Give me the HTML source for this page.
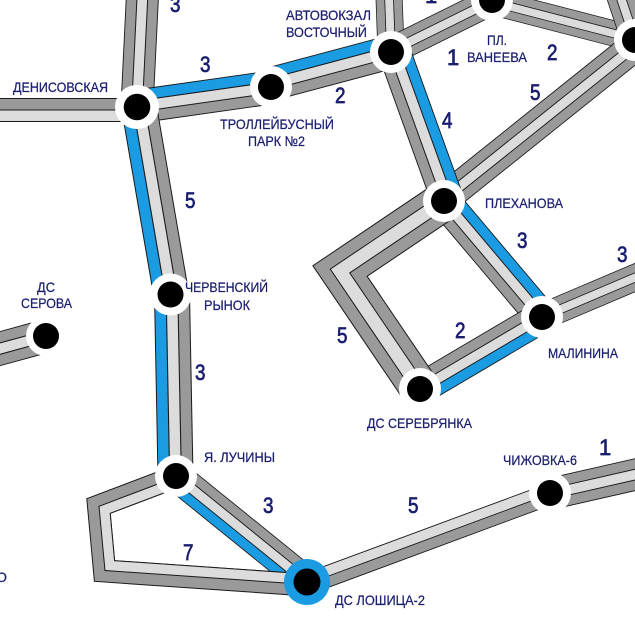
<!DOCTYPE html>
<html><head><meta charset="utf-8"><style>
html,body{margin:0;padding:0;background:#fff;}
svg{display:block;}
.s{font-family:"Liberation Sans","Noto Sans CJK SC",sans-serif;font-size:14px;fill:#1b1f6e;stroke:#1b1f6e;stroke-width:0.25;}
.n{font-family:"Liberation Sans",sans-serif;font-size:22px;fill:#1b1f6e;stroke:#1b1f6e;stroke-width:0.7;}
</style></head><body>
<svg width="635" height="632" viewBox="0 0 635 632" xmlns="http://www.w3.org/2000/svg">
<defs>
<g id="dld"><rect y="-18" width="1" height="36" fill="#1a1a1a"/><rect y="-17" width="1" height="10.6" fill="#9a9a9a"/><rect y="-5.3" width="1" height="10.6" fill="#dcdcdc"/><rect y="6.4" width="1" height="10.6" fill="#9a9a9a"/></g>
<g id="bld"><rect y="-18" width="1" height="36" fill="#1a1a1a"/><rect y="-17" width="1" height="10.6" fill="#1a9be2"/><rect y="-5.3" width="1" height="10.6" fill="#dcdcdc"/><rect y="6.4" width="1" height="10.6" fill="#9a9a9a"/></g>
<g id="dlb"><rect y="-18" width="1" height="36" fill="#1a1a1a"/><rect y="-17" width="1" height="10.6" fill="#9a9a9a"/><rect y="-5.3" width="1" height="10.6" fill="#dcdcdc"/><rect y="6.4" width="1" height="10.6" fill="#1a9be2"/></g>
<g id="dl"><rect y="-12" width="1" height="24" fill="#1a1a1a"/><rect y="-11" width="1" height="10.5" fill="#9a9a9a"/><rect y="0.5" width="1" height="10.5" fill="#dcdcdc"/></g>
<g id="ld"><rect y="-12" width="1" height="24" fill="#1a1a1a"/><rect y="-11" width="1" height="10.5" fill="#dcdcdc"/><rect y="0.5" width="1" height="10.5" fill="#9a9a9a"/></g>
</defs>
<rect width="635" height="632" fill="#fff"/>

<!-- bundles -->
<use href="#dld" transform="translate(137 107) rotate(-87.19) scale(112.1 0.917)"/>
<use href="#dl" transform="translate(-5 110) scale(142 1)"/>
<use href="#bld" transform="translate(137 106.5) rotate(-8.07) scale(135.3 0.944)"/>
<use href="#bld" transform="translate(271 84) rotate(-14.93) scale(124.2 0.944)"/>
<use href="#dld" transform="translate(391 52) rotate(-92.05) scale(58 0.75)"/>
<use href="#dld" transform="translate(391 51) rotate(-26.34) scale(112.7 0.78)"/>
<use href="#dld" transform="translate(492 2) rotate(14.51) scale(147.7 0.72)"/>
<use href="#dld" transform="translate(635 40) rotate(-108.43) scale(47.4 0.78)"/>
<use href="#dld" transform="translate(635 46) rotate(141.3) scale(244.7 0.86)"/>
<use href="#bld" transform="translate(394 51) rotate(70.2) scale(159.4 0.917)"/>
<use href="#bld" transform="translate(444 201) rotate(49.81) scale(151.9 0.9)"/>
<use href="#dld" transform="translate(542 317) rotate(-22.99) scale(107.5 0.75)"/>
<use href="#bld" transform="translate(542 317) rotate(149.46) scale(141.7 0.89)"/>
<use href="#dlb" transform="translate(139 107) rotate(80.24) scale(188.7 1)"/>
<use href="#dlb" transform="translate(172 294) rotate(88.9) scale(183 1)"/>
<use href="#dlb" transform="translate(176 476) rotate(38.98) scale(168.5 0.85)"/>
<use href="#ld" transform="translate(307 584) rotate(-20.32) scale(259.1 0.917)"/>
<use href="#dld" transform="translate(550 494) rotate(-12.83) scale(92.3 0.89)"/>
<use href="#dld" transform="translate(46 336) rotate(164.65) scale(52.9 0.94)"/>

<!-- Serebryanka loop -->
<g fill="none" stroke-linejoin="miter" stroke-linecap="butt">
<polyline points="444,201 340,271 420,389" stroke="#1a1a1a" stroke-width="40"/>
<polyline points="444,201 340,271 420,389" stroke="#9a9a9a" stroke-width="38"/>
<polyline points="444,201 340,271 420,389" stroke="#1a1a1a" stroke-width="15"/>
<polyline points="444,201 340,271 420,389" stroke="#dcdcdc" stroke-width="13"/>
</g>
<!-- Luchiny loop -->
<g fill="none" stroke-linejoin="miter" stroke-linecap="butt">
<polyline points="175,477 98.5,506 104.5,571 307,585" stroke="#1a1a1a" stroke-width="23"/>
<polyline points="175,477 98.5,506 104.5,571 307,585" stroke="#9a9a9a" stroke-width="21"/>
<polyline points="177,482.4 104.6,509.8 109.8,565.6 307.4,579.3" stroke="#1a1a1a" stroke-width="11.5"/>
<polyline points="177,482.4 104.6,509.8 109.8,565.6 307.4,579.3" stroke="#dcdcdc" stroke-width="9.5"/>
</g>

<!-- stations -->
<g>
<circle cx="137" cy="107" r="22" fill="#fff"/><circle cx="137" cy="107" r="13.3" fill="#000"/>
<circle cx="271" cy="87" r="21" fill="#fff"/><circle cx="271" cy="87" r="13" fill="#000"/>
<circle cx="391" cy="52" r="21" fill="#fff"/><circle cx="391" cy="52" r="13" fill="#000"/>
<circle cx="492" cy="0" r="21" fill="#fff"/><circle cx="492" cy="0" r="13" fill="#000"/>
<circle cx="635" cy="40" r="21" fill="#fff"/><circle cx="635" cy="40" r="13" fill="#000"/>
<circle cx="444" cy="201" r="21" fill="#fff"/><circle cx="444" cy="201" r="13" fill="#000"/>
<circle cx="542" cy="317" r="21" fill="#fff"/><circle cx="542" cy="317" r="13" fill="#000"/>
<circle cx="420" cy="389" r="21" fill="#fff"/><circle cx="420" cy="389" r="13" fill="#000"/>
<circle cx="170.5" cy="294.5" r="21" fill="#fff"/><circle cx="170.5" cy="294.5" r="13" fill="#000"/>
<circle cx="46" cy="336" r="20" fill="#fff"/><circle cx="46" cy="336" r="13" fill="#000"/>
<circle cx="176" cy="476" r="21" fill="#fff"/><circle cx="176" cy="476" r="13" fill="#000"/>
<circle cx="550" cy="493" r="21" fill="#fff"/><circle cx="550" cy="493" r="13" fill="#000"/>
<circle cx="307" cy="582" r="23" fill="#1a9be2"/><circle cx="307" cy="582" r="13.5" fill="#000"/>
</g>

<!-- station labels -->
<text class="s" x="13" y="92" textLength="95" lengthAdjust="spacingAndGlyphs">ДЕНИСОВСКАЯ</text>
<text class="s" x="286" y="20" textLength="85" lengthAdjust="spacingAndGlyphs">АВТОВОКЗАЛ</text>
<text class="s" x="286" y="37" textLength="81" lengthAdjust="spacingAndGlyphs">ВОСТОЧНЫЙ</text>
<text class="s" x="220" y="129" textLength="114" lengthAdjust="spacingAndGlyphs">ТРОЛЛЕЙБУСНЫЙ</text>
<text class="s" x="248" y="146" textLength="57" lengthAdjust="spacingAndGlyphs">ПАРК №2</text>
<text class="s" x="487" y="45" textLength="20" lengthAdjust="spacingAndGlyphs">ПЛ.</text>
<text class="s" x="467" y="62" textLength="60" lengthAdjust="spacingAndGlyphs">ВАНЕЕВА</text>
<text class="s" x="485" y="208" textLength="78" lengthAdjust="spacingAndGlyphs">ПЛЕХАНОВА</text>
<text class="s" x="548" y="358" textLength="70" lengthAdjust="spacingAndGlyphs">МАЛИНИНА</text>
<text class="s" x="367" y="428" textLength="105" lengthAdjust="spacingAndGlyphs">ДС СЕРЕБРЯНКА</text>
<text class="s" x="185" y="292" textLength="83" lengthAdjust="spacingAndGlyphs">ЧЕРВЕНСКИЙ</text>
<text class="s" x="204" y="310" textLength="46" lengthAdjust="spacingAndGlyphs">РЫНОК</text>
<text class="s" x="37" y="292" textLength="18" lengthAdjust="spacingAndGlyphs">ДС</text>
<text class="s" x="21" y="308" textLength="51" lengthAdjust="spacingAndGlyphs">СЕРОВА</text>
<text class="s" x="204" y="462" textLength="71" lengthAdjust="spacingAndGlyphs">Я. ЛУЧИНЫ</text>
<text class="s" x="503" y="465" textLength="74" lengthAdjust="spacingAndGlyphs">ЧИЖОВКА-6</text>
<text class="s" x="335" y="605" textLength="90" lengthAdjust="spacingAndGlyphs">ДС ЛОШИЦА-2</text>
<text class="s" x="-4" y="582" textLength="11" lengthAdjust="spacingAndGlyphs">О</text>

<!-- route numbers -->
<text class="n" x="170" y="12" textLength="10.5" lengthAdjust="spacingAndGlyphs">3</text>
<text class="n" x="200" y="72" textLength="10.5" lengthAdjust="spacingAndGlyphs">3</text>
<text class="n" x="335" y="103" textLength="10.5" lengthAdjust="spacingAndGlyphs">2</text>
<text class="n" x="447" y="65">1</text>
<text class="n" x="425" y="3">1</text>
<text class="n" x="547" y="60" textLength="10.5" lengthAdjust="spacingAndGlyphs">2</text>
<text class="n" x="530" y="100" textLength="10.5" lengthAdjust="spacingAndGlyphs">5</text>
<text class="n" x="442" y="128" textLength="10.5" lengthAdjust="spacingAndGlyphs">4</text>
<text class="n" x="517" y="248" textLength="10.5" lengthAdjust="spacingAndGlyphs">3</text>
<text class="n" x="617" y="262" textLength="10.5" lengthAdjust="spacingAndGlyphs">3</text>
<text class="n" x="337" y="343" textLength="10.5" lengthAdjust="spacingAndGlyphs">5</text>
<text class="n" x="455" y="338" textLength="10.5" lengthAdjust="spacingAndGlyphs">2</text>
<text class="n" x="185" y="208" textLength="10.5" lengthAdjust="spacingAndGlyphs">5</text>
<text class="n" x="195" y="380" textLength="10.5" lengthAdjust="spacingAndGlyphs">3</text>
<text class="n" x="263" y="513" textLength="10.5" lengthAdjust="spacingAndGlyphs">3</text>
<text class="n" x="183" y="560" textLength="10.5" lengthAdjust="spacingAndGlyphs">7</text>
<text class="n" x="408" y="513" textLength="10.5" lengthAdjust="spacingAndGlyphs">5</text>
<text class="n" x="599" y="455">1</text>
</svg>
</body></html>
